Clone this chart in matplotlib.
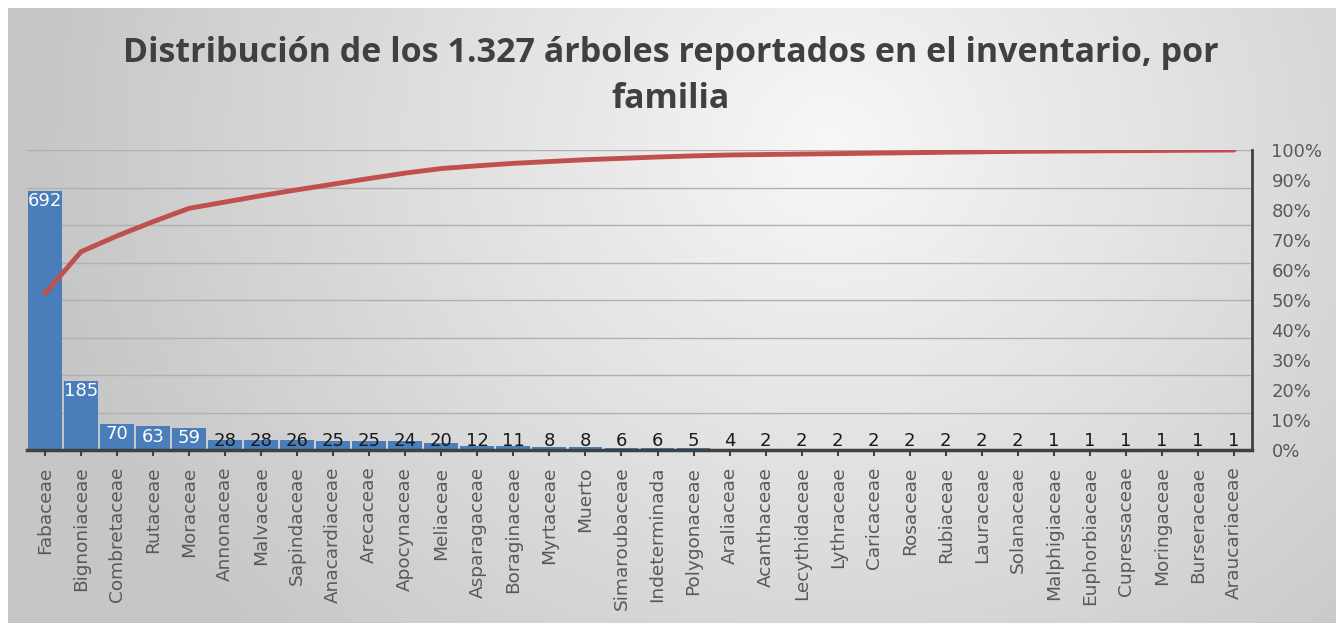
import numpy as np
import matplotlib.pyplot as plt

families = ["Fabaceae", "Bignoniaceae", "Combretaceae", "Rutaceae", "Moraceae",
            "Annonaceae", "Malvaceae", "Sapindaceae", "Anacardiaceae", "Arecaceae",
            "Apocynaceae", "Meliaceae", "Asparagaceae", "Boraginaceae", "Myrtaceae",
            "Muerto", "Simaroubaceae", "Indeterminada", "Polygonaceae", "Araliaceae",
            "Acanthaceae", "Lecythidaceae", "Lythraceae", "Caricaceae", "Rosaceae",
            "Rubiaceae", "Lauraceae", "Solanaceae", "Malphigiaceae", "Euphorbiaceae",
            "Cupressaceae", "Moringaceae", "Burseraceae", "Araucariaceae"]
counts = [692, 185, 70, 63, 59, 28, 28, 26, 25, 25, 24, 20, 12, 11, 8, 8, 6, 6,
          5, 4, 2, 2, 2, 2, 2, 2, 2, 2, 1, 1, 1, 1, 1, 1]
pct_ticks = [0, 0.1, 0.2, 0.3, 0.4, 0.5, 0.6, 0.7, 0.8, 0.9, 1.0]
pct_labels = ["0%", "10%", "20%", "30%", "40%", "50%", "60%", "70%", "80%", "90%", "100%"]

W, H = 1342, 629
fig = plt.figure(figsize=(W / 100, H / 100), dpi=100, facecolor="white")

# gradient background panel (light centre, grey edges)
bg = fig.add_axes([8 / W, 6 / H, (1336 - 8) / W, (621 - 6) / H])
yy, xx = np.mgrid[1:0:200j, 0:1:400j]
r = np.sqrt(((xx - 0.62) * 1.6) ** 2 + ((yy - 0.78) * 0.8) ** 2)
shade = np.clip(0.97 - 0.2 * r, 0.78, 0.97)
bg.imshow(np.dstack([shade] * 3), aspect="auto", extent=[0, 1, 0, 1],
          interpolation="bicubic")
bg.set_axis_off()

ax = fig.add_axes([27 / W, 1 - 450 / H, (1252 - 27) / W, 300 / H])
ax.patch.set_alpha(0)
x = np.arange(len(families))
ax.bar(x, counts, width=0.94, color="#4A7EBB", zorder=2)
ax.set_ylim(0, 800)
ax.set_xlim(-0.5, len(families) - 0.5)
ax.set_yticks(np.arange(0, 801, 100))
ax.yaxis.grid(True, color="#b0b0b0", lw=1)
ax.set_axisbelow(True)
ax.set_xticks(x)
ax.set_xticklabels(families, rotation=90, fontsize=13.3, color="#595959")
ax.tick_params(axis="x", length=4, width=1.5, color="#404040", pad=8)
for s in ["top", "left", "right"]:
    ax.spines[s].set_visible(False)
ax.spines["bottom"].set_color("#404040")
ax.spines["bottom"].set_linewidth(2.5)

for xi, v in zip(x, counts):
    if v >= 59:
        ax.text(xi, v - 4, str(v), ha="center", va="top", fontsize=13,
                color="white", zorder=3)
    else:
        ax.text(xi, 0, str(v), ha="center", va="bottom", fontsize=13,
                color="#1a1a1a", zorder=3)

cum = np.cumsum(counts) / np.sum(counts)
ax2 = ax.twinx()
ax2.plot(x, cum, color="#C0504D", lw=3.5, solid_capstyle="round", zorder=4)
ax2.set_ylim(0, 1.0)
ax2.set_yticks(pct_ticks)
ax2.set_yticklabels(pct_labels, fontsize=13, color="#595959")
ax2.tick_params(axis="y", length=0, pad=14)
for s in ["top", "left", "bottom"]:
    ax2.spines[s].set_visible(False)
ax2.spines["right"].set_color("#404040")
ax2.spines["right"].set_linewidth(2)
ax.tick_params(axis="y", left=False, right=False, labelleft=False)

fig.text(0.5, 1 - 76 / H, "Distribución de los 1.327 árboles reportados en el inventario, por\nfamilia",
         ha="center", va="center", fontsize=24.5, fontweight="bold", color="#404040",
         family="Open Sans", linespacing=1.45)

fig.savefig("out.png", dpi=100, facecolor="white")
